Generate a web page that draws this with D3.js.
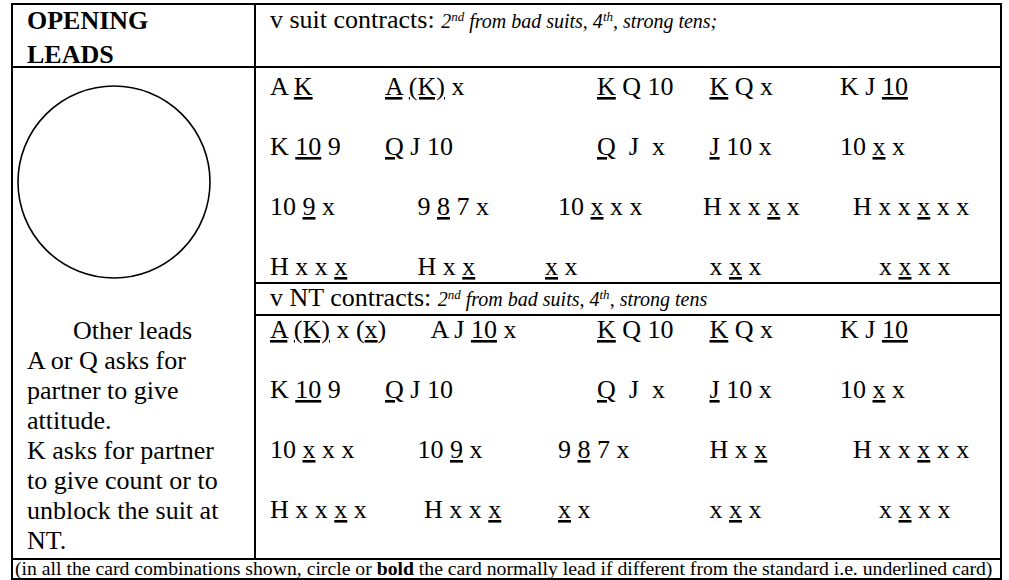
<!DOCTYPE html>
<html><head><meta charset="utf-8">
<script src="https://cdn.jsdelivr.net/npm/d3@7"></script>
<style>
body{margin:0;background:#fff}
text{font-family:"Liberation Serif","Times New Roman",serif;fill:#000}
</style>
</head><body>
<svg id="card" width="1009" height="580"></svg>
<script>
// ---------------- data ----------------
const titleLines = ["OPENING", "LEADS"];
// markup: *...* italic, ^...^ superscript, _..._ underline, #...# bold
const suitHeading = "v suit contracts: *2^nd^ from bad suits, 4^th^, strong tens;*";
const ntHeading = "v NT contracts: *2^nd^ from bad suits, 4^th^, strong tens*";
const suitLeads = [
  ["A _K_", "_A_ _(K)_ x", "_K_ Q 10", "_K_ Q x", "K J _10_"],
  ["K _10_ 9", "_Q_ J 10", "_Q_  J  x", "_J_ 10 x", "10 _x_ x"],
  ["10 _9_ x", "9 _8_ 7 x", "10 _x_ x x", "H x x _x_ x", "H x x _x_ x x"],
  ["H x x _x_", "H x _x_", "_x_ x", "x _x_ x", "x _x_ x x"]
];
const ntLeads = [
  ["_A_ _(K)_ x (_x_)", "A J _10_ x", "_K_ Q 10", "_K_ Q x", "K J _10_"],
  ["K _10_ 9", "_Q_ J 10", "_Q_  J  x", "_J_ 10 x", "10 _x_ x"],
  ["10 _x_ x x", "10 _9_ x", "9 _8_ 7 x", "H x _x_", "H x x _x_ x x"],
  ["H x x _x_ x", "H x x _x_", "_x_ x", "x _x_ x", "x _x_ x x"]
];
const otherLeads = ["Other leads", "A or Q asks for", "partner to give", "attitude.",
  "K asks for partner", "to give count or to", "unblock the suit at", "NT."];
const footnote = "(in all the card combinations shown, circle or #bold# the card normally lead if different from the standard i.e. underlined card)";

// ---------------- layout ----------------
const L = 12, R = 1001, T = 4, B = 579;
const divX = 255, headBottom = 67, ntTop = 283, ntBottom = 315, footTop = 559;
const fs = 26;
const colX = [270, 385, 545, 703, 840];
// per-cell shifts, in widths of a space
const suitShift = [[0,0,8,1,0],[0,0,8,1,0],[0,5,2,0,2],[0,5,0,1,6]];
const ntShift   = [[0,7,8,1,0],[0,0,8,1,0],[0,5,2,1,2],[0,6,2,1,6]];
const spaceW = fs * 0.25;

const svg = d3.select("#card");

function parse(str) {
  const segs = []; let cur = ""; const st = {i:false, s:false, u:false, b:false};
  const push = () => { if (cur) segs.push({t:cur, ...st}); cur = ""; };
  for (const ch of str) {
    if (ch === "*") { push(); st.i = !st.i; }
    else if (ch === "^") { push(); st.s = !st.s; }
    else if (ch === "_") { push(); st.u = !st.u; }
    else if (ch === "#") { push(); st.b = !st.b; }
    else cur += ch;
  }
  push();
  return segs;
}

function rich(sel, str, opt) {
  const t = sel.append("text")
    .attr("x", opt.x).attr("y", opt.y)
    .attr("font-size", opt.size)
    .attr("xml:space", "preserve")
    .style("white-space", "pre");
  parse(str).forEach(sg => {
    const ts = t.append("tspan").text(sg.t);
    if (sg.i) ts.attr("font-style", "italic").attr("font-size", opt.italicSize || opt.size);
    if (sg.b) ts.attr("font-weight", "bold");
    if (sg.u) ts.style("text-decoration", "underline");
    if (sg.s) ts.attr("font-size", (opt.italicSize || opt.size) * 0.65).attr("baseline-shift", "super");
  });
  return t;
}

// grid lines
const lines = [
  [L, T, R, T], [L, B, R, B], [L, T, L, B], [R, T, R, B],
  [divX, T, divX, footTop],
  [L, headBottom, R, headBottom],
  [divX, ntTop, R, ntTop], [divX, ntBottom, R, ntBottom],
  [L, footTop, R, footTop]
];
svg.append("g").selectAll("line").data(lines).join("line")
  .attr("x1", d => d[0]).attr("y1", d => d[1]).attr("x2", d => d[2]).attr("y2", d => d[3])
  .attr("stroke", "#000").attr("stroke-width", 2).attr("stroke-linecap", "square");

// title
svg.append("g").selectAll("text").data(titleLines).join("text")
  .attr("x", 27).attr("y", (d, i) => 29 + i * 34)
  .attr("font-size", fs).attr("font-weight", "bold").text(d => d);

// headings
rich(svg, suitHeading, {x: 270, y: 28, size: fs, italicSize: 20});
rich(svg, ntHeading, {x: 270, y: 306, size: fs, italicSize: 20});

// circle
svg.append("circle").attr("cx", 114).attr("cy", 182).attr("r", 96)
  .attr("fill", "none").attr("stroke", "#000").attr("stroke-width", 1.6);

// lead rows
const ySuit = d3.scaleLinear().domain([0, 3]).range([95, 275]);
const yNT = d3.scaleLinear().domain([0, 3]).range([338, 518]);
function drawBlock(rows, shifts, y) {
  rows.forEach((row, r) => row.forEach((cell, c) => {
    rich(svg, cell, {x: colX[c] + shifts[r][c] * spaceW, y: y(r), size: fs});
  }));
}
drawBlock(suitLeads, suitShift, ySuit);
drawBlock(ntLeads, ntShift, yNT);

// other leads
const yOther = d3.scaleLinear().domain([0, otherLeads.length - 1]).range([339, 549]);
svg.append("g").selectAll("text").data(otherLeads).join("text")
  .attr("x", (d, i) => i === 0 ? 73 : 27).attr("y", (d, i) => yOther(i))
  .attr("font-size", fs).text(d => d);

// footnote
const fn = rich(svg, footnote, {x: 15, y: 575, size: 18});
const wFn = fn.node().getComputedTextLength();
fn.attr("font-size", 18 * 978 / wFn);
</script>
</body></html>
